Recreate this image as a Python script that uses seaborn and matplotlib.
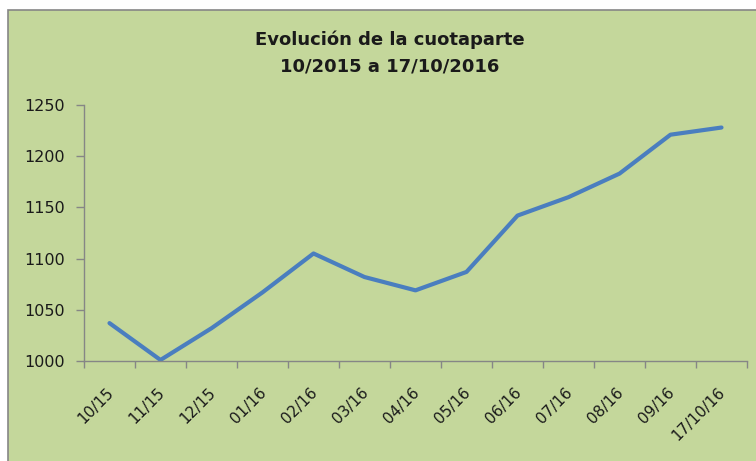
import numpy as np
import pandas as pd
import matplotlib
matplotlib.use("Agg")
import matplotlib.pyplot as plt
import matplotlib.patches as mpatches
import matplotlib.transforms as mtransforms
import seaborn as sns

# data
meses = ["10/15", "11/15", "12/15", "01/16", "02/16", "03/16", "04/16",
         "05/16", "06/16", "07/16", "08/16", "09/16", "17/10/16"]
cuotaparte = [1037, 1001, 1032, 1067, 1105, 1082, 1069, 1087, 1142, 1160,
              1183, 1221, 1228]

df = pd.DataFrame({"pos": range(len(meses)), "mes": meses, "valor": cuotaparte})

sns.set_style("white")
plt.rcParams["font.family"] = ["DejaVu Sans"]

verde = "#c4d79b"
gris = "#868686"

fig = plt.figure(figsize=(7.56, 4.61), dpi=100, facecolor="white")
# green chart area with grey frame (starts a bit in from the top-left)
fondo = mpatches.Rectangle((8 / 756, -0.01), 1.0, 1 - 10 / 461 + 0.01,
                           transform=fig.transFigure, facecolor=verde,
                           edgecolor=gris, linewidth=1.2, zorder=-10)
fig.patches.append(fondo)

ax = fig.add_axes([84 / 756, 1 - 361 / 461, (747 - 84) / 756, (361 - 105) / 461])
ax.set_zorder(5)
ax.set_facecolor(verde)

sns.lineplot(data=df, x="pos", y="valor", ax=ax, color="#4a7ebf",
             linewidth=3.0, legend=False)

ax.set_xlim(-0.5, len(meses) - 0.5)
ax.set_ylim(1000, 1250)
ax.set_yticks(np.arange(1000, 1251, 50))
ax.set_xticks(np.arange(-0.5, len(meses), 1.0))
ax.set_xticklabels([])
ax.set_xticks(np.arange(len(meses)), minor=True)
ax.set_xticklabels(meses, minor=True, rotation=45, ha="right",
                   rotation_mode="anchor", fontsize=11, color="#1a1a1a")
ax.tick_params(axis="x", which="minor", bottom=True, length=0, pad=17)
ax.tick_params(axis="x", which="major", bottom=True, direction="out",
               length=5, color=gris, width=1)
ax.tick_params(axis="y", left=True, direction="out", length=6, color=gris,
               width=1, labelsize=11.5, labelcolor="#1a1a1a", pad=8)
ax.set_xlabel("")
ax.set_ylabel("")

# nudge the rotated labels a little to the left, like the original
desplaza = mtransforms.ScaledTranslation(-4 / 100, 0, fig.dpi_scale_trans)
for lab in ax.get_xticklabels(minor=True):
    lab.set_transform(lab.get_transform() + desplaza)

for lado in ["top", "right"]:
    ax.spines[lado].set_visible(False)
for lado in ["left", "bottom"]:
    ax.spines[lado].set_color(gris)
    ax.spines[lado].set_linewidth(1)

fig.text(390 / 756, 1 - 53 / 461, "Evolución de la cuotaparte\n10/2015 a 17/10/2016",
         ha="center", va="center", fontsize=13, fontweight="bold",
         linespacing=1.6, color="#1a1a1a", zorder=6)

fig.savefig("out.png", dpi=100, facecolor="white")
